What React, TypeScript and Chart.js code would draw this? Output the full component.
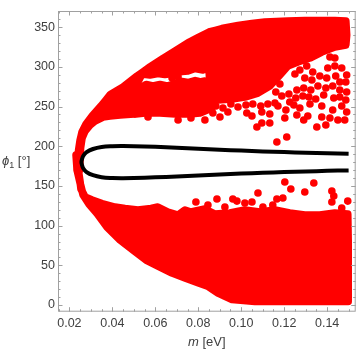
import { useEffect, useRef } from "react";
import { Chart, registerables } from "chart.js";

Chart.register(...registerables);

// ---- axes ----
const xRange = [0.0147, 0.1533];
const yRange = [-8.4, 370.3];
const xTicks = [0.02, 0.04, 0.06, 0.08, 0.1, 0.12, 0.14];
const yTicks = [0, 50, 100, 150, 200, 250, 300, 350];
const xTitleItalic = "m";
const xTitleRest = " [eV]";
const yTitleSymbol = "ϕ";
const yTitleSub = "1";
const yTitleRest = " [°]";

// ---- red scan points: dense regions (outlines of the dense point clouds) ----
const upperBandOuter: [number, number][] = [
  [0.0238, 170.0], [0.0243, 195.2], [0.0250, 207.8], [0.0259, 217.9], [0.0278, 228.0], [0.0306, 238.0],
  [0.0347, 250.6], [0.0391, 265.1], [0.0450, 274.6], [0.0515, 288.4], [0.0575, 299.8], [0.0636, 310.5],
  [0.0696, 320.5], [0.0759, 331.2], [0.0803, 337.5], [0.0850, 343.8], [0.0910, 348.2], [0.0985, 352.0],
  [0.1050, 354.5], [0.1110, 356.4], [0.1217, 357.7], [0.1296, 358.3], [0.1375, 358.3], [0.1436, 358.3],
  [0.1487, 357.7], [0.1491, 340.0], [0.1487, 327.5],
  [0.1436, 324.9], [0.1375, 318.6], [0.1320, 311.1], [0.1264, 306.1], [0.1217, 301.0], [0.1180, 289.7],
  [0.1133, 275.8], [0.1078, 267.0], [0.1017, 261.9], [0.0957, 259.4], [0.0892, 258.2], [0.0868, 260.7],
  [0.0854, 277.1], [0.0850, 298.5], [0.0822, 296.0], [0.0785, 297.9], [0.0752, 294.7], [0.0724, 294.1],
  [0.0692, 292.2], [0.0645, 290.3], [0.0612, 291.6], [0.0575, 289.7], [0.0538, 290.9],
  [0.0519, 280.9], [0.0510, 258.2], [0.0501, 240.6], [0.0436, 239.3], [0.0389, 238.0],
  [0.0357, 236.8], [0.0319, 231.8], [0.0296, 226.7], [0.0273, 219.1], [0.0259, 210.3], [0.0252, 197.7],
  [0.0247, 170.0],
];

const upperBandInner: [number, number][] = [
  [0.0529, 273.3], [0.0557, 277.7], [0.0589, 275.8], [0.0622, 277.7], [0.0654, 275.8], [0.0678, 277.7],
  [0.0706, 279.6], [0.0724, 281.5], [0.0752, 280.2], [0.0785, 282.7], [0.0808, 280.9], [0.0831, 282.1],
  [0.0864, 268.3], [0.0864, 248.1], [0.0808, 241.8], [0.0761, 240.6], [0.0692, 240.6],
  [0.0622, 241.8], [0.0552, 241.8], [0.0510, 240.6], [0.0510, 258.2],
];

const lowerBand: [number, number][] = [
  [0.0236, 188.9], [0.0243, 167.5], [0.0250, 154.9], [0.0254, 146.1], [0.0273, 136.0], [0.0306, 132.2],
  [0.0352, 127.8], [0.0412, 123.4], [0.0459, 121.5], [0.0519, 119.6], [0.0580, 121.5], [0.0612, 123.4],
  [0.0659, 117.1], [0.0706, 113.3], [0.0738, 119.6], [0.0766, 117.1], [0.0831, 120.9], [0.0878, 114.6],
  [0.0947, 115.9], [0.1017, 119.6], [0.1087, 117.1], [0.1157, 119.6], [0.1226, 115.9], [0.1296, 113.3],
  [0.1366, 113.3], [0.1436, 115.9], [0.1496, 114.6],
  [0.1498, 81.8], [0.1498, 44.1], [0.1498, 4.4],
  [0.1413, 4.4], [0.1273, 4.4], [0.1157, 4.4], [0.1064, 4.4], [0.0957, 6.9], [0.0892, 15.1],
  [0.0847, 23.3], [0.0801, 27.7], [0.0738, 34.0], [0.0678, 40.3], [0.0617, 48.5], [0.0557, 56.7],
  [0.0496, 69.3], [0.0436, 81.8], [0.0375, 98.2], [0.0329, 115.2], [0.0291, 127.2], [0.0264, 138.6],
  [0.0250, 153.7], [0.0236, 170.0], [0.0231, 188.9],
];

// ---- red scan points: individual points in the sparse parts ----
const upperPoints: [number, number][] = [
  [0.0566, 236.8], [0.0706, 233.0], [0.0766, 235.5], [0.0831, 233.0], [0.0678, 285.9], [0.0706, 287.2],
  [0.0882, 250.6], [0.0915, 248.1], [0.0952, 253.1], [0.0985, 249.4], [0.1022, 251.9], [0.1054, 253.1],
  [0.1091, 250.6], [0.1124, 253.1], [0.1157, 254.4],
  [0.0868, 241.8], [0.0901, 236.8], [0.0938, 243.1], [0.1026, 241.8], [0.1050, 238.0], [0.1073, 224.2],
  [0.1096, 229.2], [0.1133, 229.2], [0.1166, 205.3], [0.1212, 211.6], [0.1096, 243.1], [0.1133, 240.6],
  [0.1413, 312.4], [0.1468, 298.5], [0.1491, 289.7], [0.1273, 296.0], [0.1305, 301.0], [0.1333, 293.5],
  [0.1403, 298.5], [0.1436, 301.0], [0.1436, 311.1], [0.1250, 290.9],
  [0.1180, 278.3], [0.1296, 285.9], [0.1329, 283.4], [0.1366, 288.4], [0.1398, 285.9], [0.1440, 288.4],
  [0.1487, 280.9], [0.1459, 280.9],
  [0.1161, 268.3], [0.1291, 273.3], [0.1324, 270.8], [0.1357, 275.8], [0.1394, 273.3], [0.1426, 275.8],
  [0.1459, 270.8], [0.1491, 268.3], [0.1259, 270.8],
  [0.1189, 263.2], [0.1222, 265.8], [0.1254, 260.7], [0.1287, 263.2], [0.1347, 259.4], [0.1431, 260.7],
  [0.1487, 258.2], [0.1315, 261.9], [0.1384, 264.5], [0.1459, 261.9], [0.1226, 255.7],
  [0.1171, 250.6], [0.1208, 245.6], [0.1245, 251.9], [0.1273, 248.1], [0.1320, 253.1], [0.1375, 250.6],
  [0.1426, 245.6], [0.1468, 250.6], [0.1491, 243.1],
  [0.1259, 239.3], [0.1352, 224.2], [0.1394, 226.7], [0.1450, 233.0], [0.1203, 235.5], [0.1310, 238.0],
  [0.1413, 235.5], [0.1291, 233.0], [0.1375, 236.8], [0.1482, 233.0],
];

const lowerPoints: [number, number][] = [
  [0.1203, 154.9], [0.1338, 153.7], [0.1078, 141.1], [0.1231, 146.1], [0.1296, 142.3], [0.1422, 143.6],
  [0.1431, 137.3], [0.0887, 133.5], [0.0961, 133.5], [0.0980, 130.9], [0.1050, 129.7], [0.1166, 133.5],
  [0.1194, 134.8], [0.1496, 130.9], [0.1422, 129.7], [0.0845, 125.9], [0.1017, 128.5], [0.1101, 123.4],
  [0.1147, 125.9], [0.1468, 122.2], [0.0924, 123.4], [0.0789, 129.7],
];

// ---- black contour ----
const contour: [number, number][] = [
  [0.150, 190.5], [0.14, 191], [0.13, 191.8], [0.12, 192.6], [0.11, 193.5], [0.10, 194.5], [0.09, 195.5],
  [0.08, 196.8], [0.07, 198], [0.06, 199.2], [0.05, 200], [0.045, 200.2], [0.04, 200], [0.035, 199],
  [0.031, 196.5], [0.028, 192.5], [0.0265, 188], [0.0258, 183], [0.0256, 180], [0.0258, 177],
  [0.0265, 172], [0.028, 167.5], [0.031, 163.5], [0.035, 161], [0.04, 160], [0.045, 159.8], [0.05, 160],
  [0.06, 160.8], [0.07, 162], [0.08, 163.2], [0.09, 164.5], [0.10, 165.5], [0.11, 166.5], [0.12, 167.4],
  [0.13, 168.2], [0.14, 169], [0.15, 169.5],
];

const RED = "#ff0000";
const FONT_FAMILY = "'Liberation Sans', Arial, sans-serif";
const LABEL_COLOR = "#404040";
const FRAME_COLOR = "#a0a0a0";

const toXY = (pts: [number, number][]) => pts.map(([x, y]) => ({ x, y }));

const region = (pts: [number, number][]) => ({
  type: "line" as const,
  data: toXY([...pts, pts[0]]),
  borderColor: RED,
  backgroundColor: RED,
  borderWidth: 7.6,
  borderJoinStyle: "round" as const,
  borderCapStyle: "round" as const,
  fill: "shape" as any,
  pointRadius: 0,
  tension: 0.001,
  order: 2,
});

const dots = (pts: [number, number][]) => ({
  type: "scatter" as const,
  data: toXY(pts),
  pointRadius: 3.8,
  pointBackgroundColor: RED,
  pointBorderWidth: 0,
  backgroundColor: RED,
  borderColor: RED,
  borderWidth: 0,
  showLine: false,
  order: 1,
});

const framePlugin = {
  id: "mmaFrame",
  afterDatasetsDraw(chart: any) {
    const { ctx, chartArea: a, scales } = chart;
    const xs = scales.x;
    const ys = scales.y;
    ctx.save();
    ctx.strokeStyle = FRAME_COLOR;
    ctx.lineWidth = 1;
    ctx.strokeRect(a.left + 0.5, a.top + 0.5, a.right - a.left - 1, a.bottom - a.top - 1);
    const line = (x1: number, y1: number, x2: number, y2: number) => {
      ctx.beginPath();
      ctx.moveTo(x1, y1);
      ctx.lineTo(x2, y2);
      ctx.stroke();
    };
    for (let k = 3; k <= 30; k++) {
      const v = k * 0.005;
      const px = Math.round(xs.getPixelForValue(v)) + 0.5;
      if (px < a.left || px > a.right) continue;
      const len = k % 4 === 0 ? 4.5 : 2.5;
      line(px, a.bottom, px, a.bottom - len);
      line(px, a.top, px, a.top + len);
    }
    for (let k = 0; k <= 37; k++) {
      const v = k * 10;
      const py = Math.round(ys.getPixelForValue(v)) + 0.5;
      if (py < a.top || py > a.bottom) continue;
      const len = k % 5 === 0 ? 4.5 : 2.5;
      line(a.left, py, a.left + len, py);
      line(a.right, py, a.right - len, py);
    }
    ctx.restore();
  },
  afterDraw(chart: any) {
    const { ctx, chartArea: a } = chart;
    ctx.save();
    ctx.fillStyle = LABEL_COLOR;
    ctx.textBaseline = "middle";
    const italic = `italic 13px ${FONT_FAMILY}`;
    const normal = `13px ${FONT_FAMILY}`;
    ctx.font = italic;
    const w1 = ctx.measureText(xTitleItalic).width;
    ctx.font = normal;
    const w2 = ctx.measureText(xTitleRest).width;
    const cx = (a.left + a.right) / 2;
    const x0 = cx - (w1 + w2) / 2;
    const ty = a.bottom + 30.5;
    ctx.textAlign = "left";
    ctx.font = italic;
    ctx.fillText(xTitleItalic, x0, ty);
    ctx.font = normal;
    ctx.fillText(xTitleRest, x0 + w1, ty);
    const cy = (a.top + a.bottom) / 2;
    let yx = 2;
    ctx.font = italic;
    ctx.fillText(yTitleSymbol, yx, cy);
    yx += ctx.measureText(yTitleSymbol).width;
    ctx.font = `9px ${FONT_FAMILY}`;
    ctx.fillText(yTitleSub, yx, cy + 4);
    yx += ctx.measureText(yTitleSub).width;
    ctx.font = normal;
    ctx.fillText(yTitleRest, yx, cy);
    ctx.restore();
  },
};

export default function App() {
  const ref = useRef<HTMLCanvasElement | null>(null);
  useEffect(() => {
    if (!ref.current) return;
    const tickFont = { family: FONT_FAMILY, size: 12.5 };
    const chart = new Chart(ref.current, {
      type: "scatter",
      data: {
        datasets: [
          {
            type: "line",
            data: toXY(contour),
            borderColor: "#000000",
            borderWidth: 4,
            tension: 0.4,
            pointRadius: 0,
            fill: false,
            order: 0,
          } as any,
          dots(upperPoints) as any,
          dots(lowerPoints) as any,
          region(upperBandOuter) as any,
          region(upperBandInner) as any,
          region(lowerBand) as any,
        ],
      },
      options: {
        animation: false,
        responsive: false,
        events: [],
        layout: { padding: { top: 11, right: 4.3, left: 0, bottom: 0 } },
        plugins: { legend: { display: false }, tooltip: { enabled: false } },
        scales: {
          x: {
            type: "linear",
            min: xRange[0],
            max: xRange[1],
            grid: { display: false, drawTicks: false },
            border: { display: false },
            afterBuildTicks: (s: any) => {
              s.ticks = xTicks.map((v) => ({ value: v }));
            },
            afterFit: (s: any) => {
              s.height = 48.3;
            },
            ticks: {
              autoSkip: false,
              maxRotation: 0,
              padding: 4,
              color: LABEL_COLOR,
              font: tickFont,
              callback: (v: any) => Number(v).toFixed(2),
            },
          },
          y: {
            type: "linear",
            min: yRange[0],
            max: yRange[1],
            grid: { display: false, drawTicks: false },
            border: { display: false },
            afterBuildTicks: (s: any) => {
              s.ticks = yTicks.map((v) => ({ value: v }));
            },
            afterFit: (s: any) => {
              s.width = 58;
            },
            ticks: {
              autoSkip: false,
              padding: 3,
              color: LABEL_COLOR,
              font: tickFont,
              callback: (v: any) => String(v),
            },
          },
        },
      },
      plugins: [framePlugin],
    });
    return () => chart.destroy();
  }, []);
  return (
    <div style={{ position: "fixed", left: 0, top: 0, width: 360, height: 360, background: "#fff" }}>
      <canvas ref={ref} width={360} height={360} style={{ display: "block" }} />
    </div>
  );
}
